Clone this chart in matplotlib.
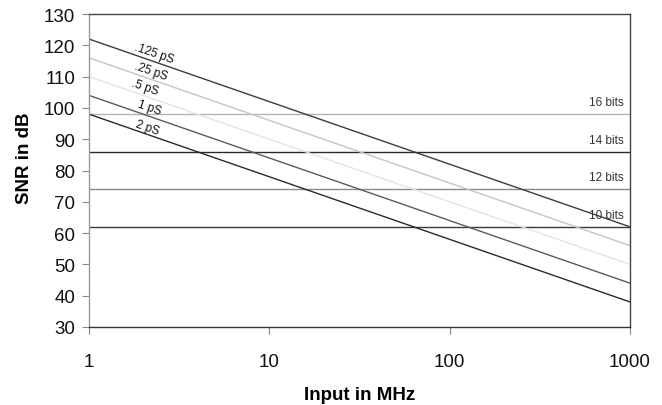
import math
import matplotlib
matplotlib.use("Agg")
import matplotlib.pyplot as plt

plt.rcParams['font.family'] = ['Liberation Sans', 'DejaVu Sans']

# Data
freq_mhz = [1, 10, 100, 1000]
jitter_labels = [".125 pS", ".25 pS", ".5 pS", "1 pS", "2 pS"]
snr_125 = [122, 102, 82, 62]
snr_25 = [116, 96, 76, 56]
snr_5 = [110, 90, 70, 50]
snr_1 = [104, 84, 64, 44]
snr_2 = [98, 78, 58, 38]
bits_labels = ["16 bits", "14 bits", "12 bits", "10 bits"]
bits_snr = [98, 86, 74, 62]

series = [snr_125, snr_25, snr_5, snr_1, snr_2]
line_colors = ["#3c3c3c", "#c4c4c4", "#e4e4e4", "#5a5a5a", "#2a2a2a"]
bit_colors = ["#b4b4b4", "#2a2a2a", "#8a8a8a", "#3a3a3a"]

fig = plt.figure(figsize=(6.62, 4.06), dpi=100)
ax = fig.add_axes([89/662, 1-328/406, (630-89)/662, (328-15)/406])

for yv, c in zip(bits_snr, bit_colors):
    ax.axhline(yv, color=c, lw=1.0, zorder=1)
for s, c in zip(series, line_colors):
    ax.plot(freq_mhz, s, color=c, lw=1.0, zorder=2)

ax.set_xscale('log')
ax.set_xlim(1, 1000)
ax.set_ylim(30, 130)
ax.set_xticks([1, 10, 100, 1000])
ax.set_xticklabels(["1", "10", "100", "1000"])
ax.set_yticks(range(30, 131, 10))
ax.minorticks_off()
ax.tick_params(axis='x', length=5, pad=13.5, labelsize=13.5, width=0.8,
               colors='#888888', labelcolor='#111111')
ax.tick_params(axis='y', length=5, pad=5, labelsize=13.5, width=0.8,
               colors='#888888', labelcolor='#111111')
ax.spines['left'].set_color('#999999')
ax.spines['bottom'].set_color('#333333')
ax.spines['top'].set_color('#444444')
ax.spines['right'].set_color('#444444')
for sp in ax.spines.values():
    sp.set_linewidth(1.0)

ax.set_xlabel("Input in MHz", fontsize=13.5, fontweight='bold', va='center')
ax.set_ylabel("SNR in dB", fontsize=13.5, fontweight='bold', va='center')
ax.xaxis.set_label_coords(0.5, -0.217)
ax.yaxis.set_label_coords(-0.12, 0.543)

# jitter labels
label_x = [2.3, 2.2, 2.05, 2.15, 2.1]
label_off = [2.7, 2.7, 2.9, 2.7, 2.4]
for lab, s, lx, off in zip(jitter_labels, series, label_x, label_off):
    yv = s[0] - 20 * math.log10(lx) + off
    ax.text(lx, yv, lab, fontsize=8.5, rotation=-19, ha='center', va='center',
            rotation_mode='anchor', color='#111111', zorder=3)

for lab, yv in zip(bits_labels, bits_snr):
    ax.text(920, yv + 3.8, lab, fontsize=8.5, ha='right', va='center', color='#333333', zorder=3)

fig.savefig("out.png", dpi=100)
